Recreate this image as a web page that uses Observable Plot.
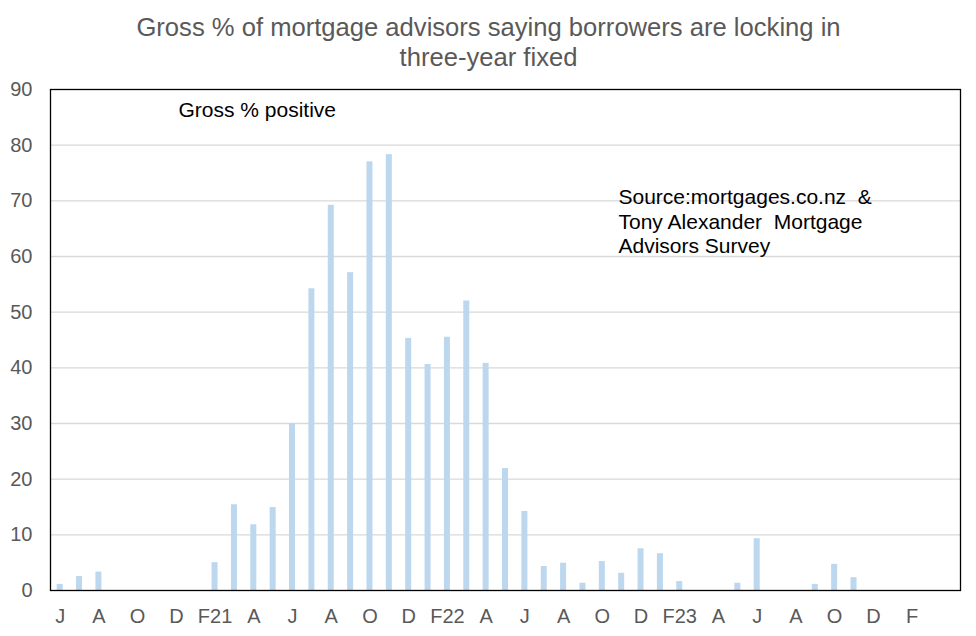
<!DOCTYPE html>
<html>
<head>
<meta charset="utf-8">
<script src="https://cdn.jsdelivr.net/npm/d3@7"></script>
<script src="https://cdn.jsdelivr.net/npm/@observablehq/plot@0.6"></script>
<style>
  html, body { margin: 0; padding: 0; background: #fff; }
  #chart { width: 976px; height: 636px; }
</style>
</head>
<body>
<div id="chart"></div>
<script>
// Months (categories), Jun 2020 – Apr 2024
const months = [
  "2020-06","2020-07","2020-08","2020-09","2020-10","2020-11","2020-12",
  "2021-01","2021-02","2021-03","2021-04","2021-05","2021-06","2021-07","2021-08","2021-09","2021-10","2021-11","2021-12",
  "2022-01","2022-02","2022-03","2022-04","2022-05","2022-06","2022-07","2022-08","2022-09","2022-10","2022-11","2022-12",
  "2023-01","2023-02","2023-03","2023-04","2023-05","2023-06","2023-07","2023-08","2023-09","2023-10","2023-11","2023-12",
  "2024-01","2024-02","2024-03","2024-04"
];
// Gross % positive
const grossPositive = [
  1.1, 2.5, 3.3, 0, 0, 0, 0,
  0, 5.0, 15.4, 11.8, 14.9, 30.0, 54.2, 69.2, 57.1, 77.0, 78.3, 45.3,
  40.6, 45.5, 52.0, 40.8, 21.9, 14.2, 4.3, 4.9, 1.3, 5.2, 3.1, 7.5,
  6.6, 1.6, 0, 0, 1.3, 9.3, 0, 0, 1.1, 4.7, 2.3, 0,
  0, 0, 0, 0
];
// X tick positions and labels
const tickMonths = [
  "2020-06","2020-08","2020-10","2020-12","2021-02","2021-04","2021-06","2021-08","2021-10","2021-12",
  "2022-02","2022-04","2022-06","2022-08","2022-10","2022-12","2023-02","2023-04","2023-06","2023-08",
  "2023-10","2023-12","2024-02"
];
const tickLabels = [
  "J","A","O","D","F21","A","J","A","O","D",
  "F22","A","J","A","O","D","F23","A","J","A",
  "O","D","F"
];
const yTicks = [0, 10, 20, 30, 40, 50, 60, 70, 80, 90];
const gridTicks = [10, 20, 30, 40, 50, 60, 70, 80];

const titleText = "Gross % of mortgage advisors saying borrowers are locking in\nthree-year fixed";
const seriesLabel = "Gross % positive";
const sourceText = "Source:mortgages.co.nz  &\nTony Alexander  Mortgage\nAdvisors Survey";

const data = months.map((m, i) => ({month: m, value: grossPositive[i]}));
const labelOf = new Map(tickMonths.map((m, i) => [m, tickLabels[i]]));

const chart = Plot.plot({
  width: 976,
  height: 636,
  marginTop: 89,
  marginBottom: 46,
  marginLeft: 50,
  marginRight: 16,
  style: {fontFamily: "'Liberation Sans', Arial, sans-serif", color: "#595959", background: "#fff"},
  x: {type: "band", domain: months, paddingInner: 0.69, paddingOuter: 0.345, align: 0.5, round: false},
  y: {domain: [0, 90]},
  marks: [
    Plot.gridY(gridTicks, {stroke: "#d9d9d9", strokeOpacity: 1, strokeWidth: 1.3}),
    Plot.barY(data, {x: "month", y: "value", fill: "#BDD7EE"}),
    Plot.axisY({ticks: yTicks, tickSize: 0, tickPadding: 18, fontSize: 20, label: null}),
    Plot.axisX({ticks: tickMonths, tickFormat: d => labelOf.get(d), tickSize: 0, tickPadding: 18, fontSize: 20, label: null}),
    Plot.frame({stroke: "black", strokeWidth: 1.3}),
    Plot.text([titleText], {text: d => d, frameAnchor: "top", dx: -17, dy: -75, lineAnchor: "top",
      textAnchor: "middle", fontSize: 25.6, lineHeight: 1.17, fill: "#595959"}),
    Plot.text([seriesLabel], {text: d => d, frameAnchor: "top-left", dx: 128, dy: 13, lineAnchor: "top",
      textAnchor: "start", fontSize: 21, fill: "black"}),
    Plot.text([sourceText], {text: d => d, frameAnchor: "top-left", dx: 568, dy: 97, lineAnchor: "top",
      textAnchor: "start", fontSize: 21, lineHeight: 1.17, fill: "black"})
  ]
});
document.getElementById("chart").appendChild(chart);
</script>
</body>
</html>
